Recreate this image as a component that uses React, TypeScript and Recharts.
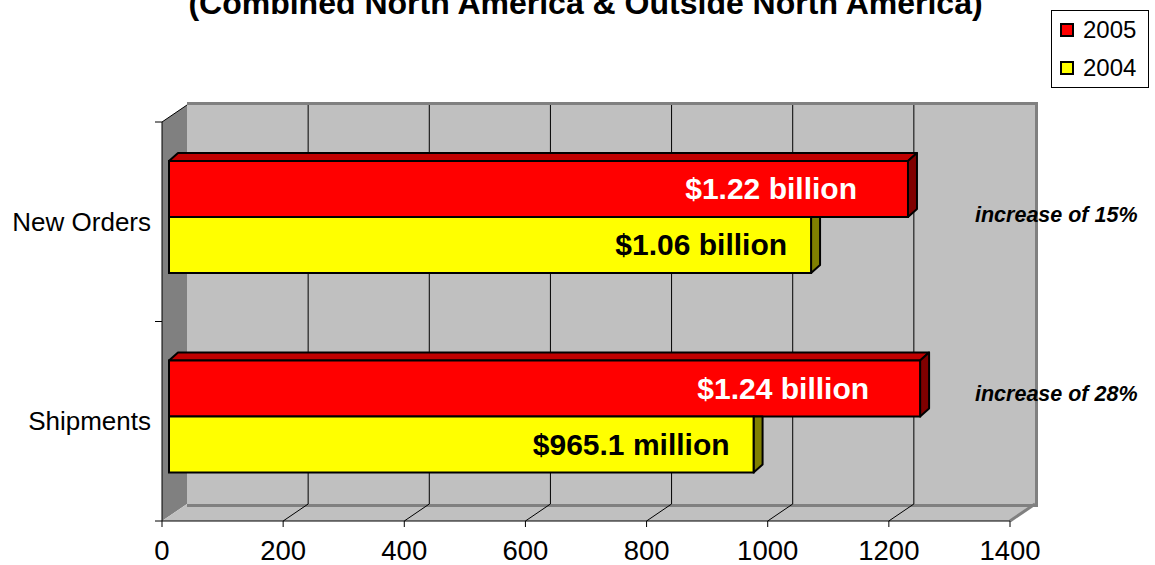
import React from "react";
import { BarChart, Bar, XAxis, YAxis, CartesianGrid, Legend, Customized } from "recharts";

const categories = ["New Orders", "Shipments"];
const values2005 = [1220, 1240];
const values2004 = [1060, 965.1];
const labels2005 = ["$1.22 billion", "$1.24 billion"];
const labels2004 = ["$1.06 billion", "$965.1 million"];
const notes = ["increase of 15%", "increase of 28%"];
const seriesNames = ["2005", "2004"];
const xTicks = [0, 200, 400, 600, 800, 1000, 1200, 1400];
const title = "(Combined North America & Outside North America)";

const data = categories.map((category, i) => ({
  category,
  y2005: values2005[i],
  y2004: values2004[i],
  l2005: labels2005[i],
  l2004: labels2004[i],
  note: notes[i],
}));

// layout
const W = 1155;
const H = 565;
const MARGIN = { top: 122, right: 145, bottom: 0, left: 0 };
const Y_W = 162;
const X_H = 44;
const X_MAX = 1400;
const PL = MARGIN.left + Y_W;
const PT = MARGIN.top;
const PR = W - MARGIN.right;
const PB = H - MARGIN.bottom - X_H;
const DX = 25; // wall depth
const DY = 17;
const BX = 7; // bars sit a bit back from the front plane
const BY = 5;
const BDX = 9; // bar thickness
const BDY = 8;
const NOTE_DY = [33, 12];
const FONT = "'Liberation Sans', Arial, sans-serif";

const barShape = (front: string, top: string, side: string, textColor: string, labelKey: string, inset: number, isFront: boolean) =>
  (p: any) => {
    const { x, y, width, height, payload, index } = p;
    const fx = x + BX;
    const fy = y - BY;
    const ex = fx + width;
    const sidePts = isFront
      ? `${ex},${fy} ${ex + BDX},${fy - BDY} ${ex + BDX},${fy + height - BDY} ${ex},${fy + height}`
      : `${ex},${fy} ${ex + BDX},${fy} ${ex + BDX},${fy + height - BDY} ${ex},${fy + height}`;
    return (
      <g>
        {isFront && (
          <polygon
            points={`${fx},${fy} ${fx + BDX},${fy - BDY} ${ex + BDX},${fy - BDY} ${ex},${fy}`}
            fill={top}
            stroke="#000"
            strokeWidth={2}
            strokeLinejoin="round"
          />
        )}
        <polygon points={sidePts} fill={side} stroke="#000" strokeWidth={2} strokeLinejoin="round" />
        <rect x={fx} y={fy} width={width} height={height} fill={front} stroke="#000" strokeWidth={2} />
        <text
          x={ex - inset}
          y={fy + height / 2 + 10}
          textAnchor="end"
          fontFamily={FONT}
          fontWeight="bold"
          fontSize={30}
          fill={textColor}
        >
          {payload[labelKey]}
        </text>
        {isFront && (
          <text
            x={PR - 35}
            y={fy + height / 2 + NOTE_DY[index]}
            fontFamily={FONT}
            fontWeight="bold"
            fontStyle="italic"
            fontSize={21.5}
            fill="#000"
          >
            {payload.note}
          </text>
        )}
      </g>
    );
  };

const XTick = ({ x, y, payload }: any) => {
  const v = payload.value;
  return (
    <g>
      {v > 0 && v < X_MAX && <line x1={x} y1={PB} x2={x + DX} y2={PB - DY} stroke="#000" />}
      <text x={x} y={y + 19} textAnchor="middle" fontFamily={FONT} fontSize={27.5} fill="#000">
        {v}
      </text>
    </g>
  );
};

const YTick = ({ x, y, payload }: any) => (
  <text x={x} y={y + 9} textAnchor="end" fontFamily={FONT} fontSize={26} fill="#000">
    {payload.value}
  </text>
);

const Walls = () => {
  const band = (PB - PT) / categories.length;
  return (
    <g>
      <text x={W / 2 + 8} y={14} textAnchor="middle" fontFamily={FONT} fontWeight="bold" fontSize={32} fill="#000">
        {title}
      </text>
      {/* side wall */}
      <polygon points={`${PL},${PT} ${PL + DX},${PT - DY} ${PL + DX},${PB - DY} ${PL},${PB}`} fill="#808080" />
      {/* floor */}
      <polygon points={`${PL},${PB} ${PL + DX},${PB - DY} ${PR + DX},${PB - DY} ${PR},${PB}`} fill="#c0c0c0" />
      <line x1={PR} y1={PB} x2={PR + DX} y2={PB - DY} stroke="#808080" strokeWidth={3} />
      {/* back wall edges */}
      <rect x={PL + DX} y={PT - DY - 3} width={PR - PL + 3} height={3} fill="#808080" />
      <rect x={PR + DX} y={PT - DY - 3} width={3} height={PB - PT + 3} fill="#808080" />
      <rect x={PL + DX} y={PB - DY} width={PR - PL + 3} height={3} fill="#808080" />
      <line x1={PL} y1={PT} x2={PL + DX} y2={PT - DY} stroke="#000" />
      {Array.from({ length: categories.length + 1 }, (_, i) => (
        <line key={i} x1={PL - 7} y1={PT + i * band} x2={PL} y2={PT + i * band} stroke="#000" />
      ))}
    </g>
  );
};

const gridXs = (props: any) => {
  const sc = props?.xAxis?.scale;
  const off = props?.offset ?? { left: PL, width: PR - PL };
  return xTicks
    .filter((t) => t > 0 && t < X_MAX)
    .map((t) => (typeof sc === "function" ? sc(t) : off.left + (t / X_MAX) * off.width) + DX);
};

const LegendBox = ({ payload }: any) => {
  const items = [...(payload ?? [])].sort(
    (a: any, b: any) => seriesNames.indexOf(String(a.value)) - seriesNames.indexOf(String(b.value))
  );
  return (
    <div
      style={{
        border: "1px solid #000",
        background: "#fff",
        padding: "0 8px",
        fontFamily: FONT,
        fontSize: 24,
        boxSizing: "border-box",
        width: 98,
      }}
    >
      {items.map((e: any) => (
        <div key={e.value} style={{ display: "flex", alignItems: "center", height: 38 }}>
          <span
            style={{
              width: 10,
              height: 10,
              background: e.color,
              border: "2px solid #000",
              marginRight: 9,
              display: "inline-block",
            }}
          />
          <span>{e.value}</span>
        </div>
      ))}
    </div>
  );
};

export default function App() {
  return (
    <div style={{ width: W, height: H }}>
      <style>{"body{margin:0}"}</style>
      <BarChart width={W} height={H} data={data} layout="vertical" margin={MARGIN} barSize={56} barGap={0}>
        <Customized component={<Walls />} />
        <CartesianGrid
          x={PL + DX}
          y={PT - DY}
          width={PR - PL}
          height={PB - PT}
          fill="#c0c0c0"
          fillOpacity={1}
          stroke="#000"
          horizontal={false}
          verticalCoordinatesGenerator={gridXs}
        />
        <XAxis
          type="number"
          domain={[0, X_MAX]}
          ticks={xTicks}
          interval={0}
          height={X_H}
          tickSize={6}
          tickMargin={14}
          axisLine={{ stroke: "#000" }}
          tickLine={{ stroke: "#000" }}
          tick={<XTick />}
        />
        <YAxis
          type="category"
          dataKey="category"
          width={Y_W}
          tickSize={0}
          tickMargin={11}
          tickLine={false}
          axisLine={{ stroke: "#000" }}
          tick={<YTick />}
        />
        <Legend
          layout="vertical"
          align="center"
          verticalAlign="middle"
          wrapperStyle={{ left: 1051, top: 10, width: 98 }}
          content={<LegendBox />}
        />
        <Bar
          dataKey="y2005"
          name={seriesNames[0]}
          fill="#ff0000"
          isAnimationActive={false}
          shape={barShape("#ff0000", "#c00000", "#800000", "#fff", "l2005", 51, true)}
        />
        <Bar
          dataKey="y2004"
          name={seriesNames[1]}
          fill="#ffff00"
          isAnimationActive={false}
          shape={barShape("#ffff00", "#c0c000", "#808000", "#000", "l2004", 24, false)}
        />
      </BarChart>
    </div>
  );
}
